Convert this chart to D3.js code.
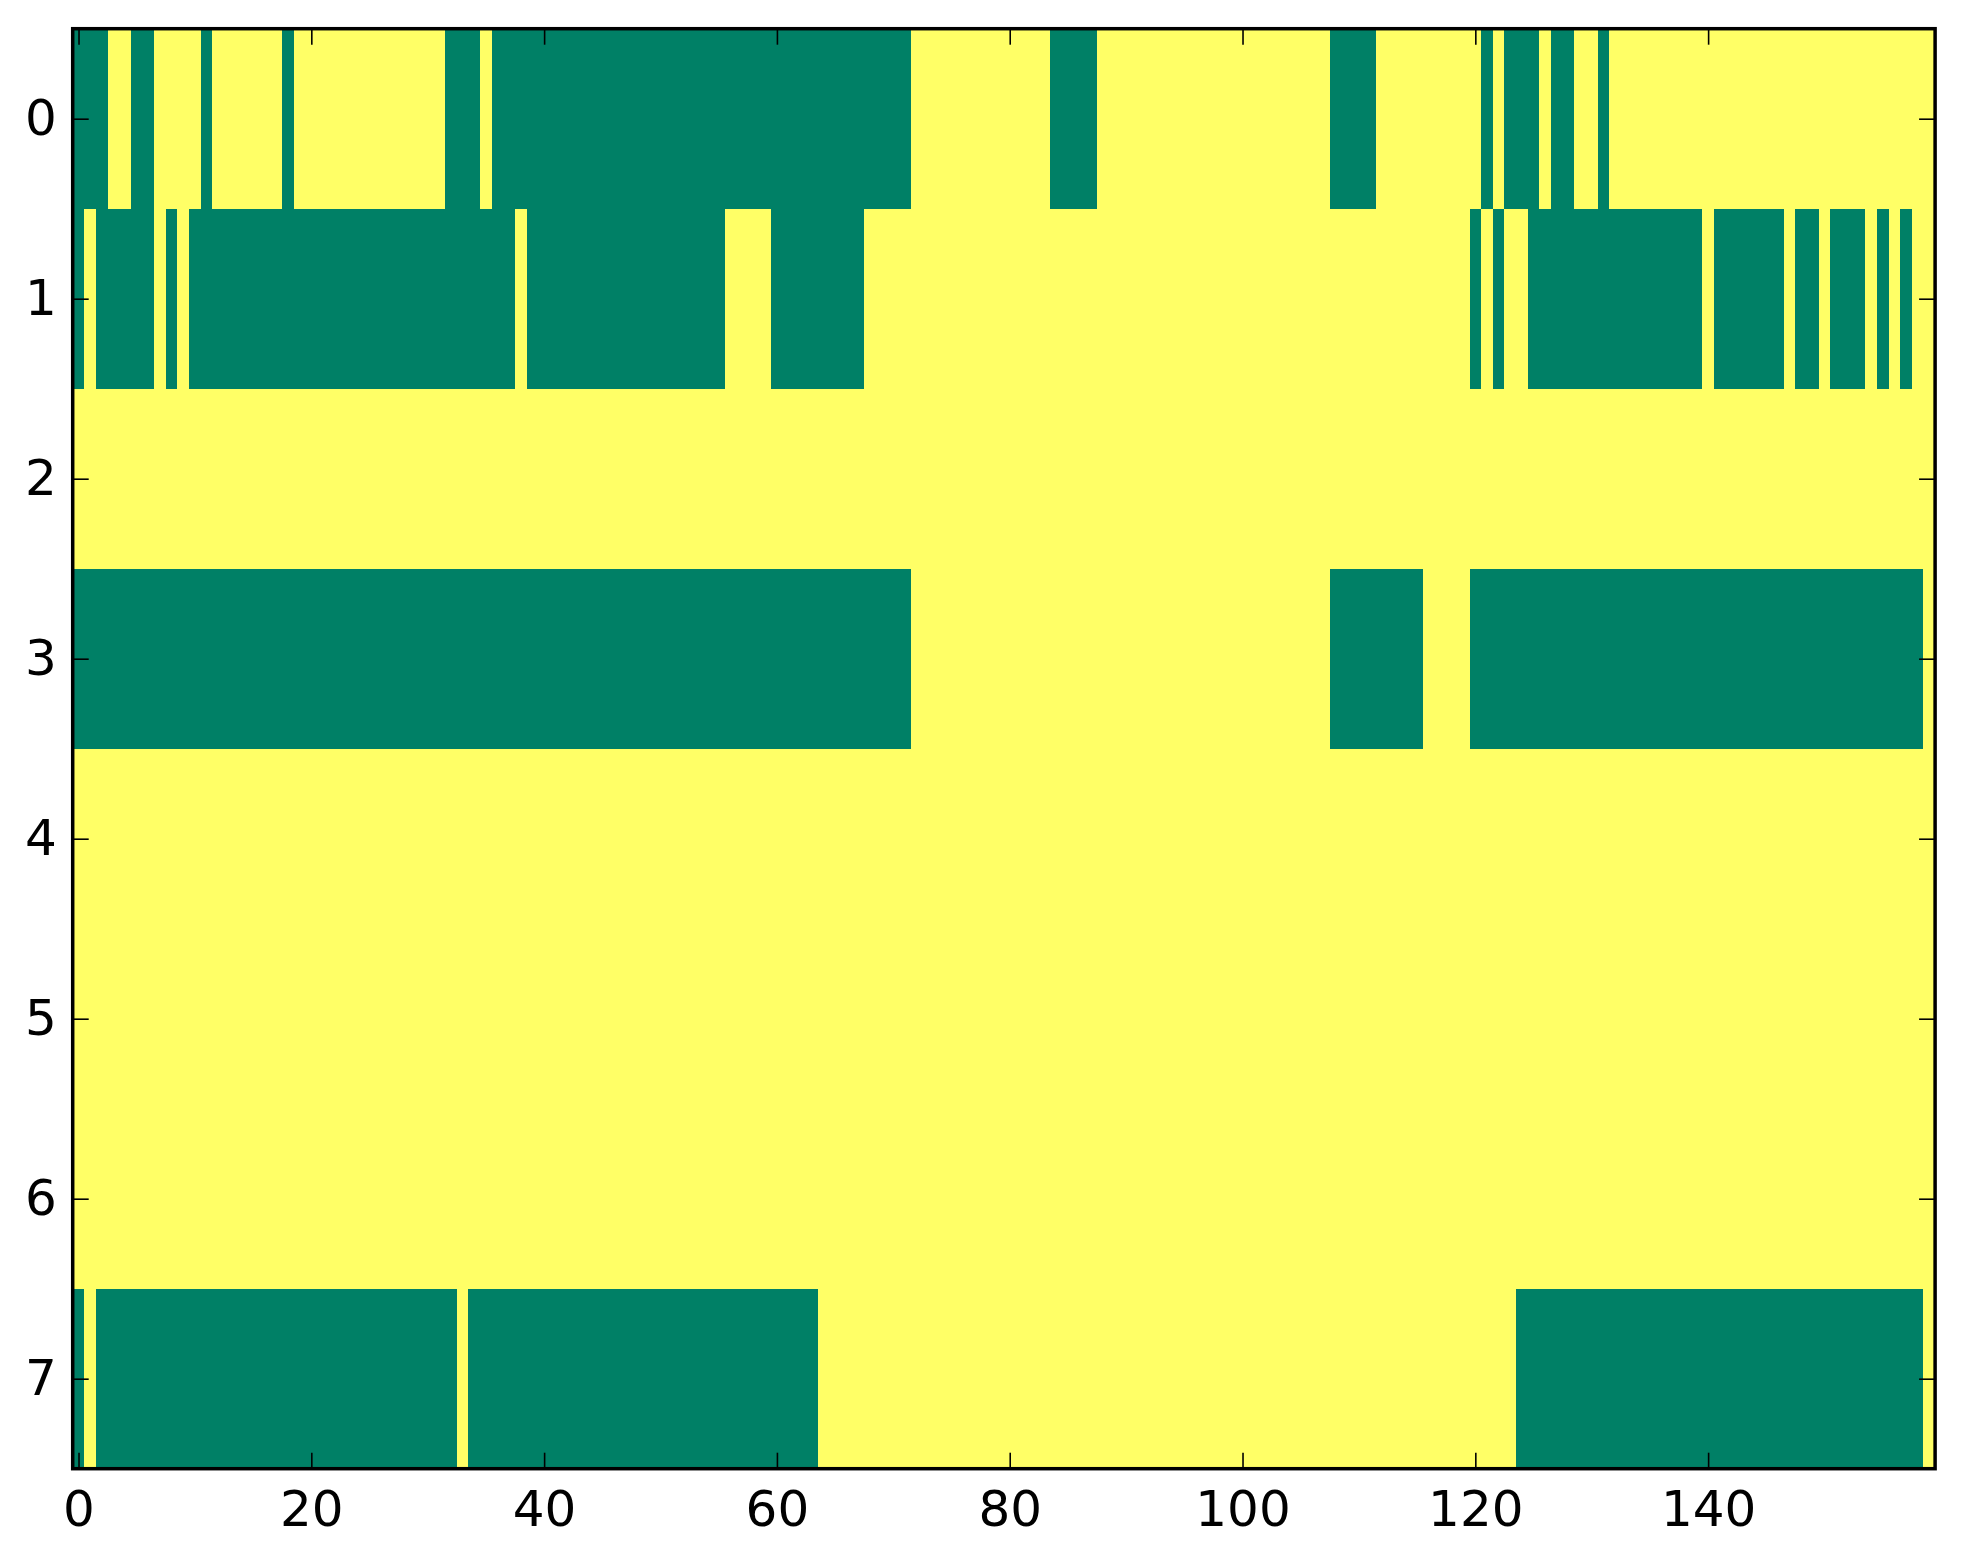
<!DOCTYPE html>
<html>
<head>
<meta charset="utf-8">
<script src="https://cdn.jsdelivr.net/npm/d3@7"></script>
<style>
  body { margin: 0; background: #fff; }
  svg { display: block; }
  .tick text { font-family: "DejaVu Sans", sans-serif; font-size: 50px; fill: #000; }
</style>
</head>
<body>
<svg id="chart" width="1963" height="1564"></svg>
<script>
// grid size
const nCols = 160;
const rowIds = [0, 1, 2, 3, 4, 5, 6, 7];

// runs of low-valued (green) cells per row, [first, last] column inclusive
const row0Low = [[0,2],[5,6],[11,11],[18,18],[32,34],[36,71],[84,87],[108,111],[121,121],[123,125],[127,128],[131,131]];
const row1Low = [[0,0],[2,6],[8,8],[10,37],[39,55],[60,67],[120,120],[122,122],[125,139],[141,146],[148,149],[151,153],[155,155],[157,157]];
const row2Low = [];
const row3Low = [[0,71],[108,115],[120,158]];
const row4Low = [];
const row5Low = [];
const row6Low = [];
const row7Low = [[0,0],[2,32],[34,63],[124,158]];

const xTicks = [0, 20, 40, 60, 80, 100, 120, 140];
const yTicks = [0, 1, 2, 3, 4, 5, 6, 7];

const rowsLow = [row0Low, row1Low, row2Low, row3Low, row4Low, row5Low, row6Low, row7Low];

const box = { left: 72.7, top: 28.7, right: 1935.1, bottom: 1468.7 };
const colLow = "#008066", colHigh = "#ffff66";

const svg = d3.select("#chart");

const x = d3.scaleLinear().domain([-0.5, nCols - 0.5]).range([box.left, box.right]);
const y = d3.scaleLinear().domain([-0.5, rowIds.length - 0.5]).range([box.top, box.bottom]);
const color = d3.scaleOrdinal().domain([0, 1]).range([colLow, colHigh]);

// build the matrix: 1 everywhere, 0 inside the low runs
const cells = [];
rowIds.forEach((r) => {
  const vals = new Array(nCols).fill(1);
  rowsLow[r].forEach(([a, b]) => { for (let c = a; c <= b; c++) vals[c] = 0; });
  vals.forEach((v, c) => cells.push({ row: r, col: c, v: v }));
});

svg.append("g")
  .attr("shape-rendering", "crispEdges")
  .selectAll("rect")
  .data(cells)
  .enter()
  .append("rect")
  .attr("x", d => x(d.col - 0.5))
  .attr("y", d => y(d.row - 0.5))
  .attr("width", d => x(d.col + 0.5) - x(d.col - 0.5) + 0.6)
  .attr("height", d => y(d.row + 0.5) - y(d.row - 0.5) + 0.6)
  .attr("fill", d => color(d.v));

const tickLen = 16;

function styleAxis(g) {
  g.select(".domain").remove();
  g.selectAll(".tick line").attr("stroke", "#000").attr("stroke-width", 1.6);
}

svg.append("g")
  .attr("transform", `translate(0,${box.bottom})`)
  .call(d3.axisBottom(x).tickValues(xTicks).tickSizeInner(-tickLen).tickSizeOuter(0).tickPadding(21.5))
  .call(styleAxis);

svg.append("g")
  .attr("transform", `translate(0,${box.top})`)
  .call(d3.axisTop(x).tickValues(xTicks).tickSizeInner(-tickLen).tickSizeOuter(0).tickFormat(""))
  .call(styleAxis);

svg.append("g")
  .attr("transform", `translate(${box.left},0)`)
  .call(d3.axisLeft(y).tickValues(yTicks).tickSizeInner(-tickLen).tickSizeOuter(0).tickPadding(16))
  .call(styleAxis);

svg.append("g")
  .attr("transform", `translate(${box.right},0)`)
  .call(d3.axisRight(y).tickValues(yTicks).tickSizeInner(-tickLen).tickSizeOuter(0).tickFormat(""))
  .call(styleAxis);

svg.selectAll(".tick text").attr("font-family", null).attr("font-size", null);

// frame
svg.append("rect")
  .attr("x", box.left)
  .attr("y", box.top)
  .attr("width", box.right - box.left)
  .attr("height", box.bottom - box.top)
  .attr("fill", "none")
  .attr("stroke", "#000")
  .attr("stroke-width", 3.5);
</script>
</body>
</html>
